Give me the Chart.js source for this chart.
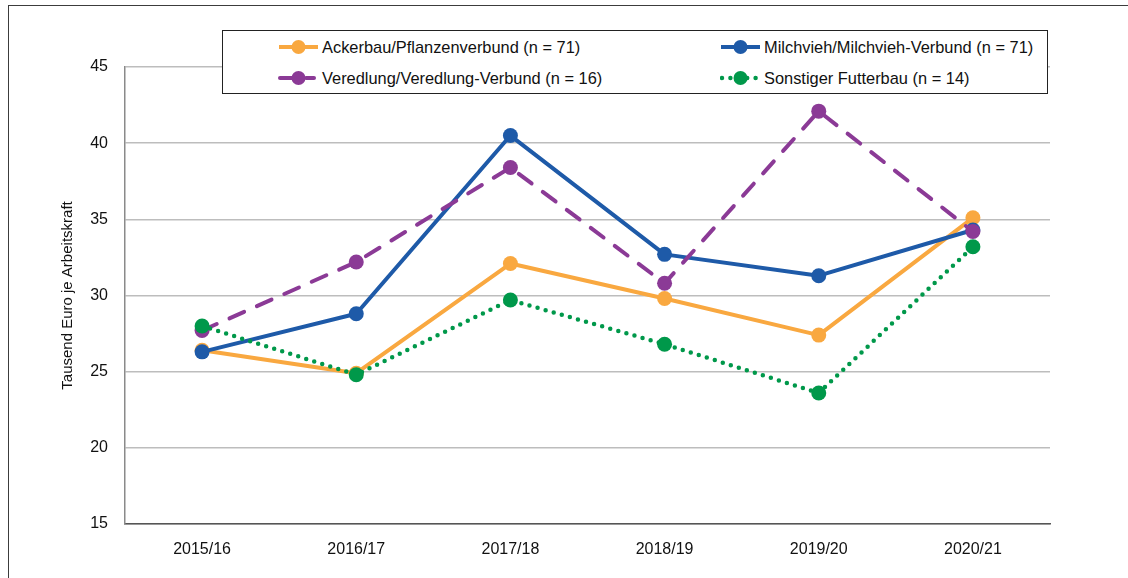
<!DOCTYPE html>
<html>
<head>
<meta charset="utf-8">
<script src="https://cdn.jsdelivr.net/npm/chart.js@4"></script>
<style>
    html, body { margin: 0; padding: 0; background: #fff; }
    #wrap { position: relative; width: 1128px; height: 578px; overflow: hidden; font-family: "Liberation Sans", Arial, sans-serif; }
    #frame { position: absolute; left: 8px; top: 5px; width: 1200px; height: 700px; border-left: 1.5px solid #3c3c3c; border-top: 1.5px solid #3c3c3c; }
    #chartLine { position: absolute; left: 0; top: 0; }
    #legendBox { position: absolute; left: 222px; top: 30px; width: 824px; height: 62px; border: 1px solid #222; background: #fff; }
    .item { position: absolute; height: 20px; display: flex; align-items: center; font-size: 16.4px; color: #111; white-space: nowrap; }
    .item svg { margin-right: 3px; }
</style>
</head>
<body>
<div id="wrap">
    <div id="frame"></div>
    <canvas id="chartLine" width="1128" height="578"></canvas>
    <div id="legendBox"></div>
</div>
<script>
// Gewinn je Arbeitskraft nach Betriebsform

var categories = ['2015/16', '2016/17', '2017/18', '2018/19', '2019/20', '2020/21'];

var ackerbau = [26.4, 24.9, 32.1, 29.8, 27.4, 35.1];
var milchvieh = [26.3, 28.8, 40.5, 32.7, 31.3, 34.3];
var veredlung = [27.7, 32.2, 38.4, 30.8, 42.1, 34.2];
var sonstiger = [28.0, 24.8, 29.7, 26.8, 23.6, 33.2];

var seriesNames = [
    'Ackerbau/Pflanzenverbund (n = 71)',
    'Milchvieh/Milchvieh-Verbund (n = 71)',
    'Veredlung/Veredlung-Verbund (n = 16)',
    'Sonstiger Futterbau (n = 14)'
];
var seriesValues = [ackerbau, milchvieh, veredlung, sonstiger];
var seriesColors = ['#F9A840', '#1E5AA8', '#8B3A96', '#00984A'];
var seriesDash = [[], [], [16, 14], [0, 8.4]];
var seriesOrder = [4, 3, 2, 1];

var yTicks = [15, 20, 25, 30, 35, 40, 45];

function buildChart() {
    "use strict";

    var datasets = [];
    seriesNames.forEach(function (name, i) {
        datasets.push({
            label: name,
            data: seriesValues[i],
            borderColor: seriesColors[i],
            backgroundColor: seriesColors[i],
            pointBackgroundColor: seriesColors[i],
            pointBorderWidth: 0,
            pointRadius: 7.5,
            pointHoverRadius: 7.5,
            borderWidth: i === 3 ? 4.5 : 4,
            borderDash: seriesDash[i],
            borderCapStyle: i >= 2 ? 'round' : 'butt',
            borderJoinStyle: 'round',
            tension: 0,
            order: seriesOrder[i]
        });
    });

    var ctx = document.getElementById('chartLine').getContext('2d');
    new Chart(ctx, {
        type: 'line',
        data: {
            labels: categories,
            datasets: datasets
        },
        options: {
            responsive: false,
            animation: false,
            layout: { padding: { left: 0, right: 78, top: 67, bottom: 0 } },
            plugins: {
                legend: { display: false },
                tooltip: { enabled: false }
            },
            scales: {
                x: {
                    offset: true,
                    grid: { display: false, drawTicks: false, offset: true },
                    border: { display: true, color: '#555', width: 1.5 },
                    ticks: {
                        padding: 16,
                        color: '#111',
                        font: { family: 'Liberation Sans', size: 16 }
                    },
                    afterFit: function (s) { s.height = 54; }
                },
                y: {
                    min: yTicks[0],
                    max: yTicks[yTicks.length - 1],
                    afterBuildTicks: function (s) {
                        s.ticks = yTicks.map(function (v) { return { value: v }; });
                    },
                    grid: { color: '#bdbdbd', lineWidth: 1.5, drawTicks: false },
                    border: { display: true, color: '#8a8a8a', width: 1.5 },
                    ticks: {
                        padding: 17,
                        color: '#111',
                        font: { family: 'Liberation Sans', size: 16 }
                    },
                    title: {
                        display: true,
                        text: 'Tausend Euro je Arbeitskraft',
                        color: '#111',
                        font: { family: 'Liberation Sans', size: 15 },
                        padding: { top: 59, bottom: 0 }
                    },
                    afterFit: function (s) { s.width = 125; }
                }
            }
        }
    });
}

function buildLegend() {
    var box = document.getElementById('legendBox');
    var spots = [[55, 6], [497, 6], [55, 37], [497, 37]];
    var html = '';

    seriesNames.forEach(function (name, i) {
        var c = seriesColors[i];
        var line = '';
        if (i === 2) {
            line = "<line x1='2' y1='10' x2='20' y2='10' stroke='" + c + "' stroke-width='4' stroke-linecap='round'/>" +
                   "<line x1='28' y1='10' x2='36' y2='10' stroke='" + c + "' stroke-width='4' stroke-linecap='round'/>";
        } else if (i === 3) {
            line = "<line x1='2' y1='10' x2='40' y2='10' stroke='" + c + "' stroke-width='4.5' stroke-linecap='round' stroke-dasharray='0 8.4'/>";
        } else {
            line = "<line x1='1' y1='10' x2='40' y2='10' stroke='" + c + "' stroke-width='4'/>";
        }
        html += "<div class='item' style='left:" + spots[i][0] + "px;top:" + spots[i][1] + "px'>";
        html += "<svg width='41' height='20'>" + line + "<circle cx='20.5' cy='10' r='7' fill='" + c + "'/></svg>";
        html += "<span>" + name + "</span></div>";
    });

    box.innerHTML = html;
}

buildChart();
buildLegend();
</script>
</body>
</html>
